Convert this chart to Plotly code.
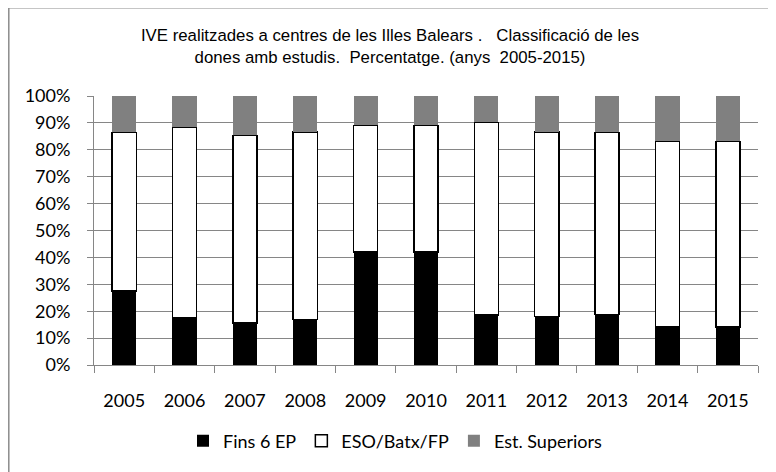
import plotly.graph_objects as go

years = ["2005", "2006", "2007", "2008", "2009", "2010", "2011", "2012", "2013", "2014", "2015"]
fins_6_ep = [27.6, 17.5, 15.7, 17.0, 42.1, 42.1, 18.6, 18.0, 18.7, 14.2, 14.2]
eso_batx_fp = [58.9, 70.8, 69.7, 69.7, 47.0, 47.0, 71.6, 68.6, 67.8, 69.0, 68.9]
est_superiors = [13.5, 11.7, 14.6, 13.3, 10.9, 10.9, 9.8, 13.4, 13.5, 16.8, 16.9]

title_text = ("IVE realitzades a centres de les Illes Balears .   Classificació de les<br>"
              "dones amb estudis.  Percentatge. (anys  2005-2015)")

# the page places the figure 8px from the window's top-left corner,
# so figure coordinates = window coordinates - 8
OFF = 8
L, R, T, B = 94 - OFF, 758 - OFF, 96 - OFF, 365 - OFF
W, H = 776, 472
def px(x):
    return (x - OFF - L) / (R - L)
def py(y):
    return (B - (y - OFF)) / (B - T)

tick_font = dict(family="Lato, Open Sans, sans-serif", size=18, color="#000000")

fig = go.Figure()
fig.add_trace(go.Bar(x=years, y=fins_6_ep, name="Fins 6 EP",
                     marker=dict(color="#000000", line=dict(color="#000000", width=0))))
fig.add_trace(go.Bar(x=years, y=eso_batx_fp, name="ESO/Batx/FP",
                     marker=dict(color="#ffffff", line=dict(color="#000000", width=1.5))))
fig.add_trace(go.Bar(x=years, y=est_superiors, name="Est. Superiors",
                     marker=dict(color="#808080", line=dict(color="#808080", width=0))))

fig.update_layout(
    width=W, height=H,
    barmode="stack", bargap=0.6,
    paper_bgcolor="#ffffff", plot_bgcolor="#ffffff",
    margin=dict(l=L, r=W - R, t=T, b=H - B, pad=0, autoexpand=False),
    title=dict(text=title_text, x=(390 - OFF) / W, xanchor="center",
               y=1 - (41 - OFF) / H, yanchor="middle",
               font=dict(family="Liberation Sans, Arial, sans-serif", size=16.8, color="#000000")),
    showlegend=True,
    legend=dict(orientation="h", x=px(183), xanchor="left", y=py(441), yanchor="middle",
                traceorder="normal", font=tick_font, bgcolor="rgba(0,0,0,0)"),
    xaxis=dict(type="category", showgrid=False, showline=True, linecolor="#868686", linewidth=1,
               ticks="outside", tickson="boundaries", ticklen=7, tickcolor="#868686",
               tickfont=tick_font, ticklabelstandoff=19, automargin=False),
    yaxis=dict(range=[0, 100], tickvals=[0, 10, 20, 30, 40, 50, 60, 70, 80, 90, 100],
               ticktext=["0%", "10%", "20%", "30%", "40%", "50%", "60%", "70%", "80%", "90%", "100%"],
               showgrid=True, gridcolor="#868686", gridwidth=1,
               showline=True, linecolor="#868686", linewidth=1,
               ticks="outside", ticklen=6, tickcolor="#868686",
               tickfont=tick_font, zeroline=False, ticklabelstandoff=13, automargin=False),
)

fig.add_shape(type="rect", xref="paper", yref="paper",
              x0=px(8.8), y0=py(560), x1=px(900), y1=py(7.8),
              line=dict(color="#8c8c8c", width=1.5), fillcolor="rgba(0,0,0,0)", layer="below")

fig.write_html("out.html")
